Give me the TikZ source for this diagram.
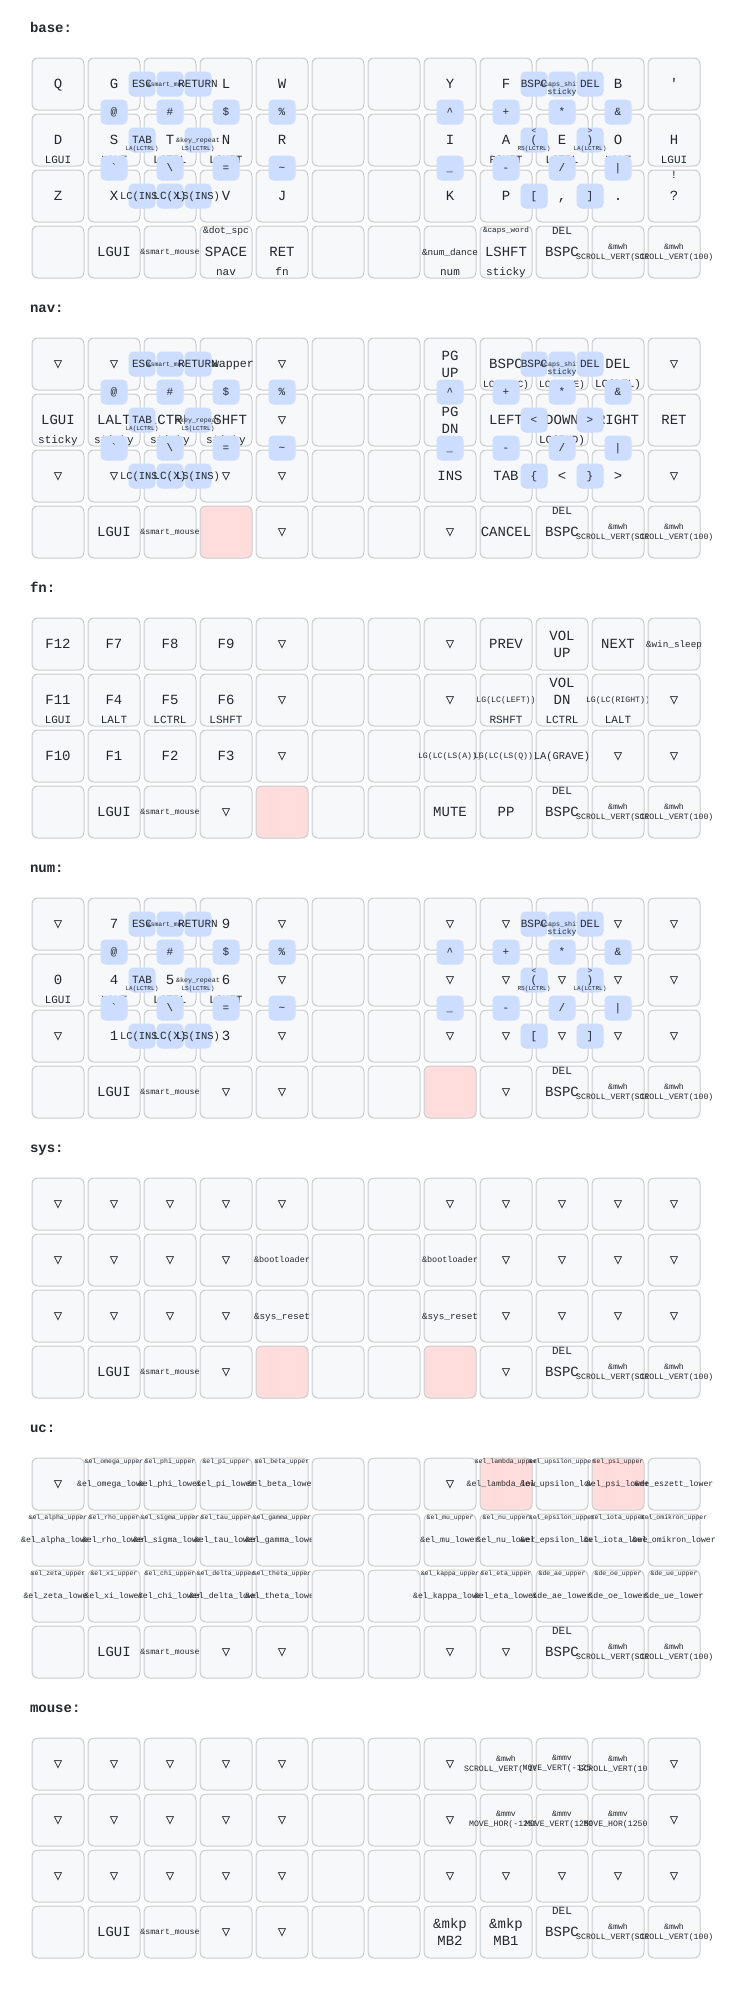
\documentclass[tikz,border=0pt]{standalone}
\usepackage{fontspec}
\setmonofont{Liberation Mono}
\renewcommand{\familydefault}{\ttdefault}
\newfontfamily\trifont{DejaVu Sans Mono}
\definecolor{keyfill}{HTML}{F6F8FA}
\definecolor{keyline}{HTML}{C9CCCF}
\definecolor{heldfill}{HTML}{FFDDDD}
\definecolor{combofill}{HTML}{CCDDFF}
\definecolor{ink}{HTML}{24292E}
\newlength\labw
\newcommand{\fitlbl}[4]{%
  \settowidth{\labw}{\fontsize{#1pt}{#1pt}\selectfont#4}%
  \pgfmathsetmacro\fsz{max(#3,min(#1,#1*#2/max(\labw,0.1)))}%
  \fontsize{\fsz pt}{\fsz pt}\selectfont\rule{0pt}{0.66em}\smash{#4}}
\newcommand{\tapn}[1]{\fitlbl{14}{56}{8.2}{#1}}
\let\taph\tapn
\newcommand{\tapt}[1]{#1}
\let\tapu\tapt
\let\tapw\tapt
\newcommand{\trans}{{\trifont ▽}}
\newcommand{\mwh}[1]{\&mwh\\#1}
\newcommand{\mmv}[1]{\&mmv\\#1}
\newcommand{\glo}[1]{\&el\_#1\_lower}
\newcommand{\gup}[1]{\&el\_#1\_upper}
\newcommand{\dlo}[1]{\&de\_#1\_lower}
\newcommand{\dup}[1]{\&de\_#1\_upper}
\newcommand{\keyrow}[4]{%
  \foreach \col/\sty/\lab/\shft/\hld in {#4}{%
    \pgfmathsetmacro\kx{58+56*\col}%
    \pgfmathsetmacro\ky{84+280*#2+56*#3}%
    \node[keycap,keycap/\sty] (#1-#3-\col) at (\kx,\ky) {};
    \node[tap/\sty] (#1-#3-\col-m) at (\kx,\ky) {\csname tap\sty\endcsname{\lab}};
    \if\relax\detokenize\expandafter{\shft}\relax\else
      \node[anchor=north] (#1-#3-\col-s) at (\kx,\ky-25) {\fitlbl{11}{46}{6.5}{\shft}};
    \fi
    \if\relax\detokenize\expandafter{\hld}\relax\else
      \node[anchor=south] (#1-#3-\col-h) at (\kx,\ky+23.5) {\fitlbl{11}{46}{6.5}{\hld}};
    \fi
  }}
\newcommand{\combos}[3]{%
  \foreach \cx/\cy/\lab/\shft/\hld [count=\i] in {#3}{%
    \pgfmathsetmacro\ky{84+280*#2+\cy}%
    \node[combo] (#1-k\i) at (\cx,\ky) {};
    \node (#1-k\i-m) at (\cx,\ky) {\fitlbl{11}{44}{6.4}{\lab}};
    \if\relax\detokenize\expandafter{\shft}\relax\else
      \node[anchor=north] (#1-k\i-s) at (\cx,\ky-11.5) {\fitlbl{8}{33}{5}{\shft}};
    \fi
    \if\relax\detokenize\expandafter{\hld}\relax\else
      \node[anchor=south] (#1-k\i-h) at (\cx,\ky+10.5) {\fitlbl{8}{33}{5}{\hld}};
    \fi
  }}
\newcommand{\sharedcombos}[2]{%
  \combos{#1}{#2}{142/0/ESC//, 170/0/\&smart\_mouse//, 198/0/RETURN//,
    534/0/BSPC//, 562/0/\&caps\_shift//sticky, 590/0/DEL//,
    114/28/@//, 170/28/\#//, 226/28/\$//, 282/28/\%//,
    450/28/\textasciicircum//, 506/28/+//, 562/28/*//, 618/28/\&//,
    142/56/TAB//LA(LCTRL), 198/56/\&key\_repeat//LS(LCTRL),
    114/84/\textasciigrave//, 170/84/\textbackslash//, 226/84/=//, 282/84/\textasciitilde//,
    450/84/\_//, 506/84/-//, 562/84/{/}//, 618/84/|//,
    142/112/LC(INS)//, 170/112/LC(X)//, 198/112/LS(INS)//}}
\begin{document}
\begin{tikzpicture}[x=1pt,y=-1pt,inner sep=0pt,outer sep=0pt,text=ink,
keycap/.style={draw=keyline,fill=keyfill,line width=1pt,rounded corners=6pt,minimum width=52pt,minimum height=52pt},
keycap/n/.style={},keycap/h/.style={fill=heldfill},keycap/t/.style={},keycap/u/.style={},keycap/w/.style={},
tap/n/.style={},tap/h/.style={},
tap/t/.style={align=center,font=\fontsize{14pt}{17pt}\selectfont},
tap/u/.style={tap/t,yshift=9pt},
tap/w/.style={align=center,font=\fontsize{8.2pt}{9.8pt}\selectfont},
combo/.style={fill=combofill,rounded corners=5pt,minimum width=27pt,minimum height=25pt},
layertitle/.style={anchor=base west,font=\bfseries\fontsize{14pt}{17pt}\selectfont}]
\path[use as bounding box,fill=white] (0,0) rectangle (732,2016);

\node[layertitle] (base-title) at (30,32) {base:};
\keyrow{base}{0}{0}{0/n/Q//, 1/n/G//, 2/n///, 3/n/L//, 4/n/W//, 5/n///, 6/n///, 7/n/Y//, 8/n/F//, 9/n///, 10/n/B//, 11/n/\textquotesingle//}
\keyrow{base}{0}{1}{0/n/D//LGUI, 1/n/S//LALT, 2/n/T//LCTRL, 3/n/N//LSHFT, 4/n/R//, 5/n///, 6/n///, 7/n/I//, 8/n/A//RSHFT, 9/n/E//LCTRL, 10/n/O//LALT, 11/n/H//LGUI}
\keyrow{base}{0}{2}{0/n/Z//, 1/n/X//, 2/n///, 3/n/V//, 4/n/J//, 5/n///, 6/n///, 7/n/K//, 8/n/P//, 9/n/{,}//, 10/n/.//, 11/n/?/!/}
\keyrow{base}{0}{3}{0/n///, 1/n/LGUI//, 2/n/\&smart\_mouse//, 3/n/SPACE/\&dot\_spc/nav, 4/n/RET//fn, 5/n///, 6/n///, 7/n/\&num\_dance//num, 8/n/LSHFT/\&caps\_word/sticky, 9/n/BSPC/DEL/, 10/w/\mwh{SCROLL\_VERT(-100)}//, 11/w/\mwh{SCROLL\_VERT(100)}//}

\node[layertitle] (nav-title) at (30,312) {nav:};
\keyrow{nav}{1}{0}{0/n/\trans//, 1/n/\trans//, 2/n///, 3/n/\&swapper//, 4/n/\trans//, 5/n///, 6/n///, 7/t/PG\\UP//, 8/n/BSPC//LC(BSPC), 9/n///LC(HOME), 10/n/DEL//LC(DEL), 11/n/\trans//}
\keyrow{nav}{1}{1}{0/n/LGUI//sticky, 1/n/LALT//sticky, 2/n/LCTRL//sticky, 3/n/LSHFT//sticky, 4/n/\trans//, 5/n///, 6/n///, 7/t/PG\\DN//, 8/n/LEFT//, 9/n/DOWN//LC(END), 10/n/RIGHT//, 11/n/RET//}
\keyrow{nav}{1}{2}{0/n/\trans//, 1/n/\trans//, 2/n///, 3/n/\trans//, 4/n/\trans//, 5/n///, 6/n///, 7/n/INS//, 8/n/TAB//, 9/n/<//, 10/n/>//, 11/n/\trans//}
\keyrow{nav}{1}{3}{0/n///, 1/n/LGUI//, 2/n/\&smart\_mouse//, 3/h///, 4/n/\trans//, 5/n///, 6/n///, 7/n/\trans//, 8/n/CANCEL//, 9/n/BSPC/DEL/, 10/w/\mwh{SCROLL\_VERT(-100)}//, 11/w/\mwh{SCROLL\_VERT(100)}//}

\node[layertitle] (fn-title) at (30,592) {fn:};
\keyrow{fn}{2}{0}{0/n/F12//, 1/n/F7//, 2/n/F8//, 3/n/F9//, 4/n/\trans//, 5/n///, 6/n///, 7/n/\trans//, 8/n/PREV//, 9/t/VOL\\UP//, 10/n/NEXT//, 11/n/\&win\_sleep//}
\keyrow{fn}{2}{1}{0/n/F11//LGUI, 1/n/F4//LALT, 2/n/F5//LCTRL, 3/n/F6//LSHFT, 4/n/\trans//, 5/n///, 6/n///, 7/n/\trans//, 8/n/LG(LC(LEFT))//RSHFT, 9/u/VOL\\DN//LCTRL, 10/n/LG(LC(RIGHT))//LALT, 11/n/\trans//}
\keyrow{fn}{2}{2}{0/n/F10//, 1/n/F1//, 2/n/F2//, 3/n/F3//, 4/n/\trans//, 5/n///, 6/n///, 7/n/LG(LC(LS(A)))//, 8/n/LG(LC(LS(Q)))//, 9/n/LA(GRAVE)//, 10/n/\trans//, 11/n/\trans//}
\keyrow{fn}{2}{3}{0/n///, 1/n/LGUI//, 2/n/\&smart\_mouse//, 3/n/\trans//, 4/h///, 5/n///, 6/n///, 7/n/MUTE//, 8/n/PP//, 9/n/BSPC/DEL/, 10/w/\mwh{SCROLL\_VERT(-100)}//, 11/w/\mwh{SCROLL\_VERT(100)}//}

\node[layertitle] (num-title) at (30,872) {num:};
\keyrow{num}{3}{0}{0/n/\trans//, 1/n/7//, 2/n///, 3/n/9//, 4/n/\trans//, 5/n///, 6/n///, 7/n/\trans//, 8/n/\trans//, 9/n///, 10/n/\trans//, 11/n/\trans//}
\keyrow{num}{3}{1}{0/n/0//LGUI, 1/n/4//LALT, 2/n/5//LCTRL, 3/n/6//LSHFT, 4/n/\trans//, 5/n///, 6/n///, 7/n/\trans//, 8/n/\trans//, 9/n/\trans//, 10/n/\trans//, 11/n/\trans//}
\keyrow{num}{3}{2}{0/n/\trans//, 1/n/1//, 2/n///, 3/n/3//, 4/n/\trans//, 5/n///, 6/n///, 7/n/\trans//, 8/n/\trans//, 9/n/\trans//, 10/n/\trans//, 11/n/\trans//}
\keyrow{num}{3}{3}{0/n///, 1/n/LGUI//, 2/n/\&smart\_mouse//, 3/n/\trans//, 4/n/\trans//, 5/n///, 6/n///, 7/h///, 8/n/\trans//, 9/n/BSPC/DEL/, 10/w/\mwh{SCROLL\_VERT(-100)}//, 11/w/\mwh{SCROLL\_VERT(100)}//}

\node[layertitle] (sys-title) at (30,1152) {sys:};
\keyrow{sys}{4}{0}{0/n/\trans//, 1/n/\trans//, 2/n/\trans//, 3/n/\trans//, 4/n/\trans//, 5/n///, 6/n///, 7/n/\trans//, 8/n/\trans//, 9/n/\trans//, 10/n/\trans//, 11/n/\trans//}
\keyrow{sys}{4}{1}{0/n/\trans//, 1/n/\trans//, 2/n/\trans//, 3/n/\trans//, 4/n/\&bootloader//, 5/n///, 6/n///, 7/n/\&bootloader//, 8/n/\trans//, 9/n/\trans//, 10/n/\trans//, 11/n/\trans//}
\keyrow{sys}{4}{2}{0/n/\trans//, 1/n/\trans//, 2/n/\trans//, 3/n/\trans//, 4/n/\&sys\_reset//, 5/n///, 6/n///, 7/n/\&sys\_reset//, 8/n/\trans//, 9/n/\trans//, 10/n/\trans//, 11/n/\trans//}
\keyrow{sys}{4}{3}{0/n///, 1/n/LGUI//, 2/n/\&smart\_mouse//, 3/n/\trans//, 4/h///, 5/n///, 6/n///, 7/h///, 8/n/\trans//, 9/n/BSPC/DEL/, 10/w/\mwh{SCROLL\_VERT(-100)}//, 11/w/\mwh{SCROLL\_VERT(100)}//}

\node[layertitle] (uc-title) at (30,1432) {uc:};
\keyrow{uc}{5}{0}{0/n/\trans//, 1/n/\glo{omega}/\gup{omega}/, 2/n/\glo{phi}/\gup{phi}/, 3/n/\glo{pi}/\gup{pi}/, 4/n/\glo{beta}/\gup{beta}/, 5/n///, 6/n///, 7/n/\trans//, 8/h/\glo{lambda}/\gup{lambda}/, 9/n/\glo{upsilon}/\gup{upsilon}/, 10/h/\glo{psi}/\gup{psi}/, 11/n/\dlo{eszett}//}
\keyrow{uc}{5}{1}{0/n/\glo{alpha}/\gup{alpha}/, 1/n/\glo{rho}/\gup{rho}/, 2/n/\glo{sigma}/\gup{sigma}/, 3/n/\glo{tau}/\gup{tau}/, 4/n/\glo{gamma}/\gup{gamma}/, 5/n///, 6/n///, 7/n/\glo{mu}/\gup{mu}/, 8/n/\glo{nu}/\gup{nu}/, 9/n/\glo{epsilon}/\gup{epsilon}/, 10/n/\glo{iota}/\gup{iota}/, 11/n/\glo{omikron}/\gup{omikron}/}
\keyrow{uc}{5}{2}{0/n/\glo{zeta}/\gup{zeta}/, 1/n/\glo{xi}/\gup{xi}/, 2/n/\glo{chi}/\gup{chi}/, 3/n/\glo{delta}/\gup{delta}/, 4/n/\glo{theta}/\gup{theta}/, 5/n///, 6/n///, 7/n/\glo{kappa}/\gup{kappa}/, 8/n/\glo{eta}/\gup{eta}/, 9/n/\dlo{ae}/\dup{ae}/, 10/n/\dlo{oe}/\dup{oe}/, 11/n/\dlo{ue}/\dup{ue}/}
\keyrow{uc}{5}{3}{0/n///, 1/n/LGUI//, 2/n/\&smart\_mouse//, 3/n/\trans//, 4/n/\trans//, 5/n///, 6/n///, 7/n/\trans//, 8/n/\trans//, 9/n/BSPC/DEL/, 10/w/\mwh{SCROLL\_VERT(-100)}//, 11/w/\mwh{SCROLL\_VERT(100)}//}

\node[layertitle] (mouse-title) at (30,1712) {mouse:};
\keyrow{mouse}{6}{0}{0/n/\trans//, 1/n/\trans//, 2/n/\trans//, 3/n/\trans//, 4/n/\trans//, 5/n///, 6/n///, 7/n/\trans//, 8/w/\mwh{SCROLL\_VERT(-100)}//, 9/w/\mmv{MOVE\_VERT(-1250)}//, 10/w/\mwh{SCROLL\_VERT(100)}//, 11/n/\trans//}
\keyrow{mouse}{6}{1}{0/n/\trans//, 1/n/\trans//, 2/n/\trans//, 3/n/\trans//, 4/n/\trans//, 5/n///, 6/n///, 7/n/\trans//, 8/w/\mmv{MOVE\_HOR(-1250)}//, 9/w/\mmv{MOVE\_VERT(1250)}//, 10/w/\mmv{MOVE\_HOR(1250)}//, 11/n/\trans//}
\keyrow{mouse}{6}{2}{0/n/\trans//, 1/n/\trans//, 2/n/\trans//, 3/n/\trans//, 4/n/\trans//, 5/n///, 6/n///, 7/n/\trans//, 8/n/\trans//, 9/n/\trans//, 10/n/\trans//, 11/n/\trans//}
\keyrow{mouse}{6}{3}{0/n///, 1/n/LGUI//, 2/n/\&smart\_mouse//, 3/n/\trans//, 4/n/\trans//, 5/n///, 6/n///, 7/t/\&mkp\\MB2//, 8/t/\&mkp\\MB1//, 9/n/BSPC/DEL/, 10/w/\mwh{SCROLL\_VERT(-100)}//, 11/w/\mwh{SCROLL\_VERT(100)}//}

\sharedcombos{base}{0}
\combos{baser}{0}{534/56/(/</RS(LCTRL), 590/56/)/>/LA(LCTRL), 534/112/[//, 590/112/]//}
\sharedcombos{nav}{1}
\combos{navr}{1}{534/56/<//, 590/56/>//, 534/112/\{//, 590/112/\}//}
\sharedcombos{num}{3}
\combos{numr}{3}{534/56/(/</RS(LCTRL), 590/56/)/>/LA(LCTRL), 534/112/[//, 590/112/]//}
\end{tikzpicture}
\end{document}
